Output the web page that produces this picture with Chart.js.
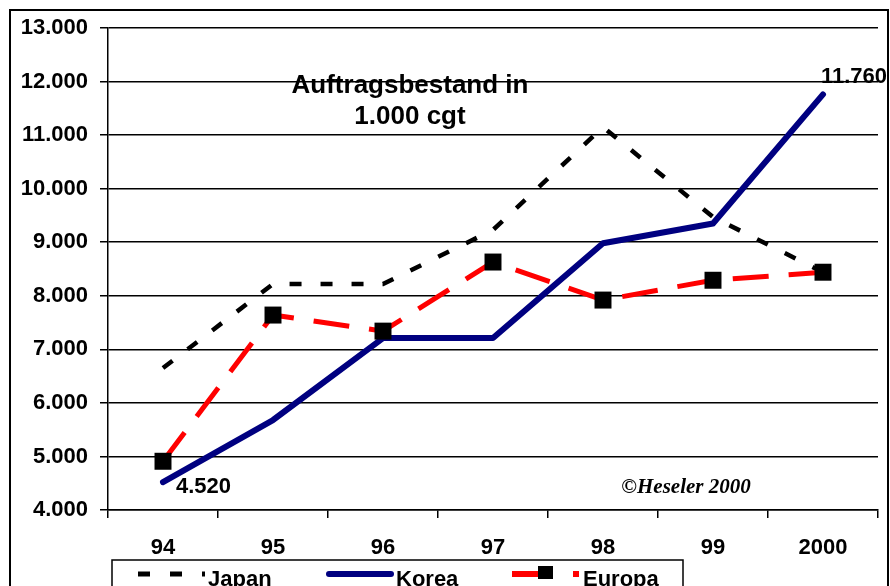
<!DOCTYPE html>
<html>
<head>
<meta charset="utf-8">
<script src="https://cdn.jsdelivr.net/npm/chart.js@4/dist/chart.umd.min.js"></script>
<style>
  html, body { margin: 0; padding: 0; background: #fff; overflow: hidden; }
  canvas { display: block; }
</style>
</head>
<body>
<canvas id="chart" width="890" height="586"></canvas>
<script>
const years = ['94', '95', '96', '97', '98', '99', '2000'];
const japan = [6650, 8220, 8220, 9230, 11150, 9470, 8440];
const korea = [4520, 5680, 7210, 7210, 8980, 9350, 11760];
const europa = [4910, 7640, 7340, 8630, 7920, 8290, 8440];
const yTicks = [4000, 5000, 6000, 7000, 8000, 9000, 10000, 11000, 12000, 13000];

const sans = '"Liberation Sans", Arial, sans-serif';

function formatDE(n) {
  return String(n).replace(/\B(?=(\d{3})+(?!\d))/g, '.');
}

// outer frame, texts and legend box
const decorations = {
  id: 'decorations',
  beforeDraw(chart) {
    const c = chart.ctx;
    c.save();
    c.fillStyle = '#fff';
    c.fillRect(0, 0, chart.width, chart.height);
    c.restore();
  },
  afterDraw(chart) {
    const c = chart.ctx;
    c.save();
    c.strokeStyle = '#000';
    c.lineWidth = 2;
    c.strokeRect(10, 10, 878, 620);

    c.fillStyle = '#000';
    c.textAlign = 'center';
    c.textBaseline = 'alphabetic';
    c.font = 'bold 26px ' + sans;
    c.fillText('Auftragsbestand in', 410, 93);
    c.fillText('1.000 cgt', 410, 124);

    c.font = 'bold 22px ' + sans;
    c.fillText(formatDE(korea[korea.length - 1]), 854, 83);
    c.textAlign = 'left';
    c.fillText(formatDE(korea[0]), 176, 493);

    c.textAlign = 'center';
    c.font = 'italic bold 21px "Liberation Serif", "Times New Roman", serif';
    c.fillText('\u00A9Heseler 2000', 686, 493);

    // legend
    c.lineWidth = 1.5;
    c.strokeRect(112, 560, 571, 60);
    const ly = 574;
    c.lineCap = 'butt';
    c.strokeStyle = '#000';
    c.lineWidth = 5;
    c.setLineDash([12, 20]);
    c.beginPath(); c.moveTo(138, ly); c.lineTo(205, ly); c.stroke();
    c.setLineDash([]);
    c.strokeStyle = '#000080';
    c.lineWidth = 6;
    c.lineCap = 'round';
    c.beginPath(); c.moveTo(329, ly); c.lineTo(391, ly); c.stroke();
    c.lineCap = 'butt';
    c.strokeStyle = '#ff0000';
    c.beginPath(); c.moveTo(512, ly); c.lineTo(545, ly); c.stroke();
    c.beginPath(); c.moveTo(573, ly); c.lineTo(579, ly); c.stroke();
    c.fillStyle = '#000';
    c.fillRect(538, 566, 15, 13);

    c.textAlign = 'left';
    c.textBaseline = 'middle';
    c.font = 'bold 22px ' + sans;
    c.fillText('Japan', 208, 580);
    c.fillText('Korea', 396, 580);
    c.fillText('Europa', 583, 580);
    c.restore();
  }
};

new Chart(document.getElementById('chart'), {
  type: 'line',
  data: {
    labels: years,
    datasets: [
      {
        label: 'Japan', data: japan, order: 1,
        borderColor: '#000', borderWidth: 4.5, borderDash: [12, 19],
        pointRadius: 0, tension: 0, fill: false
      },
      {
        label: 'Korea', data: korea, order: 2,
        borderColor: '#000080', borderWidth: 6,
        borderCapStyle: 'round', borderJoinStyle: 'round',
        pointRadius: 0, tension: 0, fill: false
      },
      {
        label: 'Europa', data: europa, order: 0,
        borderColor: '#ff0000', borderWidth: 5, borderDash: [36, 20],
        pointStyle: 'rect', pointRadius: 12,
        pointBackgroundColor: '#000', pointBorderColor: '#000', pointBorderWidth: 0,
        tension: 0, fill: false
      }
    ]
  },
  options: {
    responsive: false,
    maintainAspectRatio: false,
    animation: false,
    events: [],
    layout: { padding: { left: 0, right: 9, top: 28, bottom: 0 } },
    plugins: { legend: { display: false }, tooltip: { enabled: false } },
    scales: {
      x: {
        offset: true,
        afterFit(s) { s.height = 76; },
        grid: { display: true, drawOnChartArea: false, drawTicks: true, tickLength: 8, offset: true, color: '#000', lineWidth: 1.5 },
        border: { display: true, color: '#000', width: 1.5 },
        ticks: { color: '#000', padding: 17, font: { family: sans, size: 22, weight: 'bold' }, maxRotation: 0 }
      },
      y: {
        min: yTicks[0],
        max: yTicks[yTicks.length - 1],
        afterFit(s) { s.width = 108; },
        afterBuildTicks(s) { s.ticks = yTicks.map(v => ({ value: v })); },
        grid: { color: '#000', lineWidth: 1.5, drawTicks: true, tickLength: 8 },
        border: { display: true, color: '#000', width: 1.5 },
        ticks: {
          color: '#000', padding: 12,
          font: { family: sans, size: 22, weight: 'bold' },
          callback: v => formatDE(v)
        }
      }
    }
  },
  plugins: [decorations]
});
</script>
</body>
</html>
